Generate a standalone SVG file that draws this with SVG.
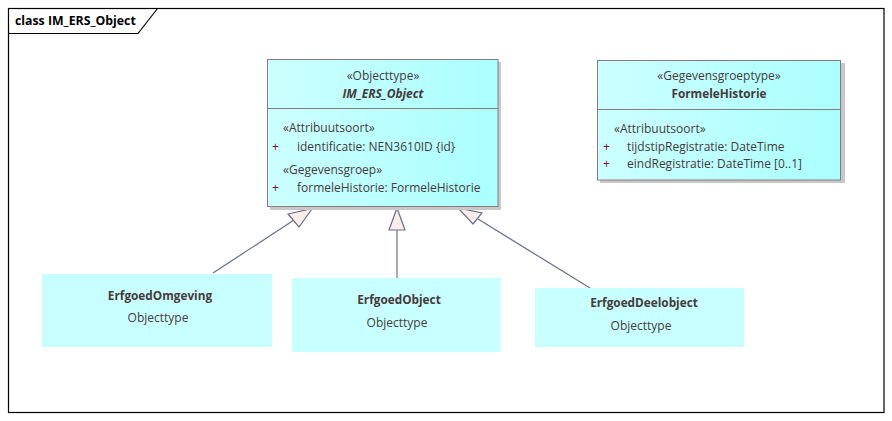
<svg xmlns="http://www.w3.org/2000/svg" width="892" height="421" viewBox="0 0 892 421">
<style>
text{font-family:"Open Sans","Noto Sans","Liberation Sans",sans-serif;font-size:12px;fill:#463a3a}
.b{font-weight:bold;font-size:11.8px}
.bi{font-weight:bold;font-style:italic}
.c{text-anchor:middle}
.p{fill:#7a1030}
.cls{fill:url(#g);stroke:#8a7b7b;stroke-width:1}
.sh{fill:#c8c8c8}
.lb{fill:#c8ffff}
.conn line{stroke:#6a6f88;stroke-width:1.2}
.conn polygon{fill:#f9eeea;stroke:#6a6f88;stroke-width:1.2}
</style>
<defs>
<linearGradient id="g" x1="0" y1="0" x2="1" y2="0">
<stop offset="0" stop-color="#ccffff"/>
<stop offset="1" stop-color="#aaffff"/>
</linearGradient>
</defs>
<rect width="892" height="421" fill="#fff"/>
<g id="frame">
<rect x="8.5" y="8.5" width="875.5" height="404" fill="none" stroke="#000" stroke-width="1.2"/>
<path d="M8.5 33.5 H138 L157.5 8.5" fill="none" stroke="#000" stroke-width="1.2"/>
<text x="15" y="25" class="b" style="font-size:12.3px;fill:#000">class IM_ERS_Object</text>
</g>
<g class="conn" id="connectors">
<line x1="213" y1="273" x2="294" y2="220"/>
<polygon points="312.5,208.3 288,214 299,227"/>
<line x1="397" y1="278" x2="397" y2="230"/>
<polygon points="397,208 389,230 405,230"/>
<line x1="590" y1="288" x2="478" y2="219"/>
<polygon points="458,208 482,213 473,224"/>
</g>
<g id="IM_ERS_Object">
<rect class="sh" x="270" y="62" width="231" height="148"/>
<rect class="cls" x="267.5" y="59.5" width="230.5" height="147"/>
<line x1="267.5" y1="108.5" x2="498" y2="108.5" stroke="#8a7b7b"/>
<text x="383" y="80" class="c">«Objecttype»</text>
<text x="383" y="98" class="c bi">IM_ERS_Object</text>
<text x="283" y="132">«Attribuutsoort»</text>
<text x="272" y="151" class="p">+</text>
<text x="297" y="151">identificatie: NEN3610ID {id}</text>
<text x="283" y="174">«Gegevensgroep»</text>
<text x="272" y="192" class="p">+</text>
<text x="297" y="192">formeleHistorie: FormeleHistorie</text>
</g>
<g id="FormeleHistorie">
<rect class="sh" x="600" y="63" width="245" height="120"/>
<rect class="cls" x="597.5" y="60.5" width="243" height="119.5"/>
<line x1="597.5" y1="109.5" x2="840.5" y2="109.5" stroke="#8a7b7b"/>
<text x="719" y="80" class="c">«Gegevensgroeptype»</text>
<text x="719" y="98" class="c b">FormeleHistorie</text>
<text x="614" y="133">«Attribuutsoort»</text>
<text x="603" y="151" class="p">+</text>
<text x="627" y="151">tijdstipRegistratie: DateTime</text>
<text x="603" y="168" class="p">+</text>
<text x="627" y="168">eindRegistratie: DateTime [0..1]</text>
</g>
<g id="ErfgoedOmgeving">
<rect class="lb" x="42" y="274" width="230" height="73"/>
<text x="160" y="300" class="c b">ErfgoedOmgeving</text>
<text x="158" y="322" class="c">Objecttype</text>
</g>
<g id="ErfgoedObject">
<rect class="lb" x="292" y="278" width="209" height="74"/>
<text x="399" y="304" class="c b">ErfgoedObject</text>
<text x="397" y="327" class="c">Objecttype</text>
</g>
<g id="ErfgoedDeelobject">
<rect class="lb" x="535" y="288" width="209" height="59"/>
<text x="644" y="307" class="c b">ErfgoedDeelobject</text>
<text x="641" y="330" class="c">Objecttype</text>
</g>
</svg>
